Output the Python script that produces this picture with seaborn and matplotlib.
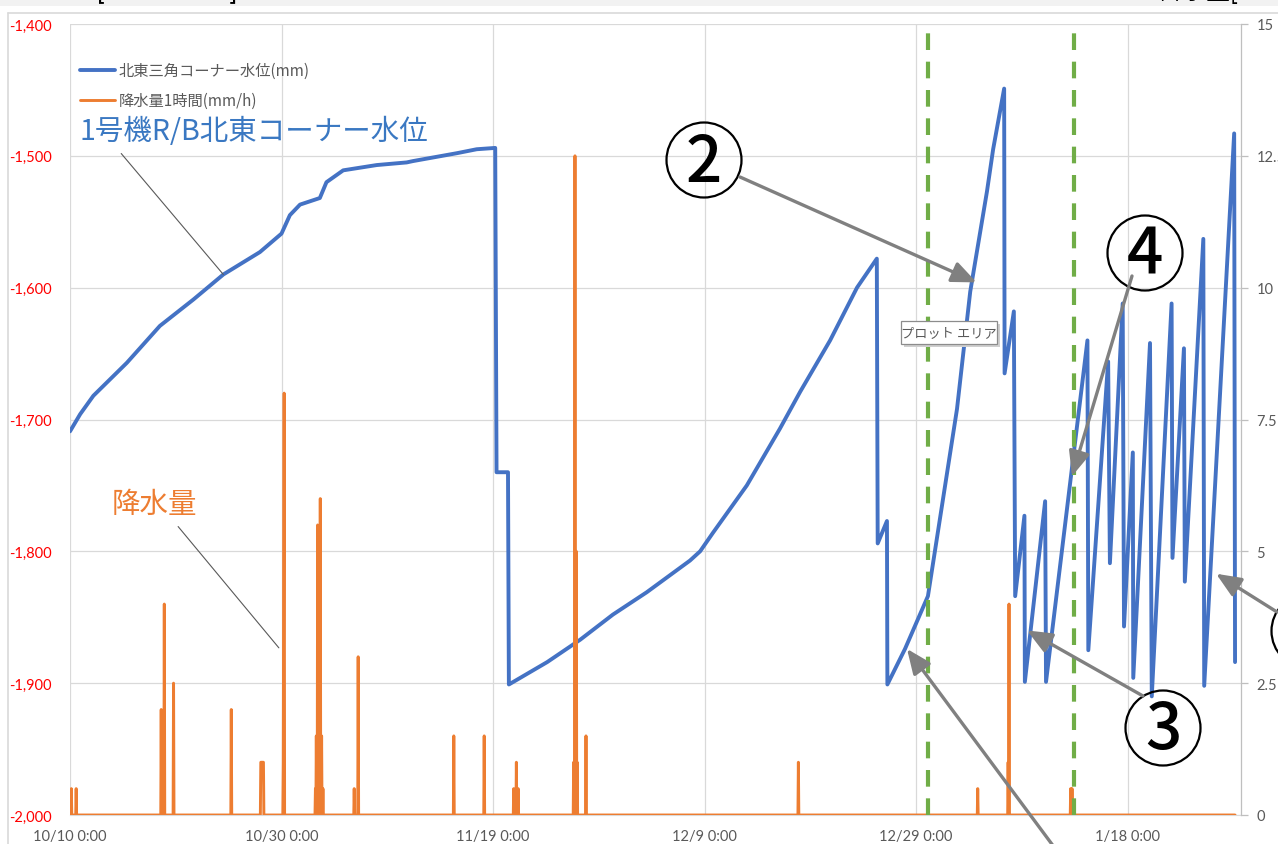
import numpy as np
import pandas as pd
import matplotlib
matplotlib.use("Agg")
import matplotlib.pyplot as plt
import matplotlib.dates as mdates
from matplotlib.patches import Circle, Rectangle
from matplotlib.lines import Line2D
from matplotlib.ticker import FuncFormatter
import seaborn as sns

# ---- water level at the NE corner of the Unit 1 R/B (mm) ----
level_times = [
    "2019-10-10 00:00", "2019-10-10 23:00", "2019-10-12 05:00", "2019-10-15 09:00",
    "2019-10-18 12:00",
    "2019-10-21 16:00", "2019-10-24 12:00", "2019-10-27 23:00", "2019-10-30 00:00",
    "2019-10-30 19:00", "2019-10-31 18:00", "2019-11-02 15:00", "2019-11-03 06:00",
    "2019-11-04 20:00", "2019-11-08 00:00", "2019-11-10 20:00", "2019-11-11 10:00",
    "2019-11-15 14:00", "2019-11-17 11:00", "2019-11-19 05:00", "2019-11-19 08:00",
    "2019-11-20 10:00", "2019-11-20 12:00", "2019-11-24 03:00", "2019-11-27 06:00",
    "2019-11-30 08:00", "2019-12-03 13:00", "2019-12-07 15:00", "2019-12-08 14:00",
    "2019-12-09 19:00", "2019-12-13 00:00", "2019-12-16 03:00", "2019-12-18 01:00",
    "2019-12-20 21:00", "2019-12-23 10:00", "2019-12-25 07:00", "2019-12-25 09:00",
    "2019-12-26 06:00", "2019-12-26 07:00", "2019-12-27 23:00", "2019-12-30 03:00",
    "2020-01-01 21:00", "2020-01-03 03:00", "2020-01-04 17:00", "2020-01-05 07:00",
    "2020-01-06 08:00", "2020-01-06 09:00", "2020-01-07 06:00", "2020-01-07 09:00",
    "2020-01-08 06:00", "2020-01-08 07:00", "2020-01-10 05:00", "2020-01-10 07:00",
    "2020-01-14 05:00", "2020-01-14 07:00", "2020-01-16 04:00", "2020-01-16 08:00",
    "2020-01-17 13:00", "2020-01-17 16:00", "2020-01-18 12:00", "2020-01-18 13:00",
    "2020-01-20 03:00", "2020-01-20 07:00", "2020-01-22 04:00", "2020-01-22 06:00",
    "2020-01-23 08:00", "2020-01-23 10:00", "2020-01-25 04:00", "2020-01-25 06:00",
    "2020-01-28 02:00", "2020-01-28 04:00",
]
level_mm = [
    -1709, -1696, -1682, -1657,
    -1629,
    -1609, -1590, -1573, -1559,
    -1545, -1537, -1532, -1520,
    -1511, -1507, -1505, -1504,
    -1498, -1495, -1494, -1740,
    -1740, -1901, -1884, -1867,
    -1848, -1831, -1807, -1800,
    -1786, -1750, -1707, -1679,
    -1640, -1600, -1578, -1794,
    -1777, -1901, -1874, -1834,
    -1692, -1603, -1527, -1495,
    -1449, -1665, -1618, -1834,
    -1773, -1899, -1762, -1899,
    -1640, -1875, -1656, -1809,
    -1612, -1857, -1725, -1896,
    -1642, -1910, -1612, -1805,
    -1646, -1823, -1563, -1902,
    -1483, -1884,
]

# ---- hourly precipitation (mm/h); hours not listed had no rain ----
rain_times = [
    "2019-10-10 03:00", "2019-10-10 14:00",
    "2019-10-18 15:00", "2019-10-18 22:00", "2019-10-19 19:00",
    "2019-10-25 06:00",
    "2019-10-28 01:00", "2019-10-28 02:00", "2019-10-28 03:00", "2019-10-28 04:00",
    "2019-10-28 05:00", "2019-10-28 06:00", "2019-10-28 07:00",
    "2019-10-30 04:00", "2019-10-30 05:00", "2019-10-30 06:00",
    "2019-11-02 05:00", "2019-11-02 07:00", "2019-11-02 10:00", "2019-11-02 13:00",
    "2019-11-02 16:00", "2019-11-02 19:00", "2019-11-02 22:00",
    "2019-11-05 21:00", "2019-11-06 06:00",
    "2019-11-15 07:00", "2019-11-18 04:00",
    "2019-11-20 23:00", "2019-11-21 05:00", "2019-11-21 09:00",
    "2019-11-26 15:00", "2019-11-26 18:00", "2019-11-26 21:00", "2019-11-26 23:00",
    "2019-11-27 19:00",
    "2019-12-17 21:00",
    "2020-01-03 20:00", "2020-01-06 17:00", "2020-01-06 19:00",
    "2020-01-12 15:00", "2020-01-12 18:00",
]
rain_mm = [
    0.5, 0.5,
    2.0, 4.0, 2.5,
    2.0,
    1.0, 1.0, 1.0, 1.0,
    1.0, 1.0, 1.0,
    1.0, 4.5, 8.0,
    0.5, 1.5, 5.5, 2.0,
    6.0, 1.5, 0.5,
    0.5, 3.0,
    1.5, 1.5,
    0.5, 1.0, 0.5,
    1.0, 12.5, 5.0, 1.0,
    1.5,
    1.0,
    0.5, 1.0, 4.0,
    0.5, 0.5,
]

# dates of the two operation changes (dashed green markers)
event_times = ["2019-12-30 03:00", "2020-01-12 22:00"]

x_start, x_end = "2019-10-10 00:00", "2020-01-28 17:30"
x_tick_times = ["2019-10-10", "2019-10-30", "2019-11-19", "2019-12-09", "2019-12-29", "2020-01-18"]
left_ticks = [-2000, -1900, -1800, -1700, -1600, -1500, -1400]
right_ticks = [0, 2.5, 5, 7.5, 10, 12.5, 15]

BLUE, ORANGE, GREEN = "#4472c4", "#ed7d31", "#70ad47"
GRID, GREY_TXT, ARROW = "#d9d9d9", "#595959", "#808080"

sns.set_style("white")
plt.rcParams["font.family"] = ["Noto Sans CJK JP", "DejaVu Sans"]

level_df = pd.DataFrame({"time": pd.to_datetime(level_times), "level": level_mm})
rain_idx = pd.date_range("2019-10-10 00:00", "2020-01-28 04:00", freq="h")
rain_series = pd.Series(0.0, index=rain_idx)
rain_series.loc[pd.to_datetime(rain_times)] = rain_mm
rain_df = pd.DataFrame({"time": rain_series.index, "rain": rain_series.values})

W, H = 1278, 845
fig = plt.figure(figsize=(W / 100, H / 100), dpi=100)
fig.patch.set_facecolor("white")

# window chrome: top band and chart-area border
fig.patches.append(Rectangle((0, (H - 7) / H), 1, 7 / H, transform=fig.transFigure,
                             facecolor="#f2f2f2", edgecolor="none", zorder=0))
fig.lines.append(Line2D([8 / W, 1], [(H - 14) / H, (H - 14) / H], transform=fig.transFigure,
                        color=GRID, lw=1.2))
fig.lines.append(Line2D([8 / W, 8 / W], [0, (H - 14) / H], transform=fig.transFigure,
                        color=GRID, lw=1.2))
fig.text(97 / W, (H + 1) / H, "[", fontsize=17, color="black", va="baseline", family="DejaVu Sans")
fig.text(228 / W, (H + 1) / H, "]", fontsize=17, color="black", va="baseline", family="DejaVu Sans")
fig.text(1238 / W, (H + 1) / H, "降水量[", fontsize=17, color="black", va="baseline", ha="right")

ax = fig.add_axes([70 / W, (H - 816) / H, (1241 - 70) / W, (816 - 25) / H])
ax2 = ax.twinx()

sns.lineplot(data=level_df, x="time", y="level", ax=ax, color=BLUE, lw=2.8,
             estimator=None, label="北東三角コーナー水位(mm)", legend=False)
sns.lineplot(data=rain_df, x="time", y="rain", ax=ax2, color=ORANGE, lw=2.1,
             estimator=None, label="降水量1時間(mm/h)", legend=False)

for t in event_times:
    ax2.axvline(pd.Timestamp(t), color=GREEN, lw=3.0, ls=(0, (4.0, 2.8)), zorder=6)

ax.set_xlim(pd.Timestamp(x_start), pd.Timestamp(x_end))
ax.set_ylim(-2000, -1400)
ax2.set_ylim(0, 15)
ax.set_xticks(pd.to_datetime(x_tick_times))
ax.xaxis.set_major_formatter(FuncFormatter(
    lambda v, p: (lambda d: f"{d.month}/{d.day} {d.hour}:{d.minute:02d}")(mdates.num2date(v))))
ax.set_yticks(left_ticks)
ax.yaxis.set_major_formatter(FuncFormatter(lambda v, p: f"{int(v):,}"))
ax2.set_yticks(right_ticks)
ax2.yaxis.set_major_formatter(FuncFormatter(lambda v, p: f"{v:g}"))
ax.set_xlabel("")
ax.set_ylabel("")
ax2.set_ylabel("")

ax.grid(True, color=GRID, lw=0.9)
ax.set_axisbelow(True)
ax2.grid(False)
for s in ["top", "left", "right"]:
    ax.spines[s].set_visible(False)
ax.spines["bottom"].set_color(GRID)
for s in ["top", "left", "bottom"]:
    ax2.spines[s].set_visible(False)
ax2.spines["right"].set_color("#bfbfbf")
ax2.spines["right"].set_linewidth(0.9)

ax.tick_params(axis="y", length=0, pad=13, labelsize=10.5, labelcolor="#ff0000")
ax.tick_params(axis="x", length=0, pad=10, labelsize=10.5, labelcolor=GREY_TXT)
ax2.tick_params(axis="y", length=5, width=0.9, color="#bfbfbf", pad=6, labelsize=10.5,
                labelcolor=GREY_TXT)
for lab in ax.get_xticklabels() + ax.get_yticklabels() + ax2.get_yticklabels():
    lab.set_fontfamily("Lato")

# legend
h1, l1 = ax.get_legend_handles_labels()
h2, l2 = ax2.get_legend_handles_labels()
for a in (ax, ax2):
    if a.get_legend() is not None:
        a.get_legend().remove()
ax2.legend(h1 + h2, l1 + l2, loc="upper left", bbox_to_anchor=(80 / W, (H - 63) / H),
           bbox_transform=fig.transFigure, frameon=False, fontsize=11,
           handlelength=2.3, handletextpad=0.25, labelspacing=0.85,
           borderpad=0, borderaxespad=0, labelcolor=GREY_TXT)

# overlay in pixel units for callouts
ov = fig.add_axes([0, 0, 1, 1], zorder=10)
ov.set_xlim(0, W)
ov.set_ylim(H, 0)
ov.axis("off")
ov.patch.set_alpha(0)


def pix(t, v, axis):
    x, y = axis.transData.transform((mdates.date2num(pd.Timestamp(t)), v))
    return ov.transData.inverted().transform((x, y))


# series labels with leader lines
ov.annotate("1号機R/B北東コーナー水位", xy=pix("2019-10-24 12:00", -1590, ax),
            xytext=(80, 132), ha="left", va="center", fontsize=20.5, color="#3a78c2",
            arrowprops=dict(arrowstyle="-", color=GREY_TXT, lw=0.8, relpos=(0.1, 0.0),
                            shrinkA=4, shrinkB=0))
ov.annotate("降水量", xy=pix("2019-10-29 18:00", 3.17, ax2),
            xytext=(112, 505), ha="left", va="center", fontsize=20.5, color=ORANGE,
            arrowprops=dict(arrowstyle="-", color=GREY_TXT, lw=0.8, relpos=(0.7, 0.0),
                            shrinkA=4, shrinkB=0))

# numbered callouts
circles = [(704, 161, "2"), (1163, 729, "3"), (1145, 254, "4"), (1309, 632, "")]
for cx, cy, num in circles:
    ov.add_patch(Circle((cx, cy), 37.5, facecolor="none", edgecolor="black", lw=1.6))
    if num:
        ov.text(cx, cy + 2, num, ha="center", va="center", fontsize=46, color="black",
                fontweight="medium")

arrow_kw = dict(arrowstyle="-|>,head_length=0.75,head_width=0.32", color=ARROW, lw=2.4,
                shrinkA=0, shrinkB=0, mutation_scale=20)
callouts = [
    ((740, 178), ("2020-01-03 17:30", -1596)),
    ((1132, 277), ("2020-01-12 18:00", -1743)),
    ((1143, 697), ("2020-01-08 12:00", -1860)),
    ((1054, 848), ("2019-12-28 03:30", -1874)),
    ((1277, 613), ("2020-01-26 09:00", -1817)),
]
for start, (t, v) in callouts:
    ov.annotate("", xy=pix(t, v, ax), xytext=start, arrowprops=arrow_kw)

# hover tooltip box
ov.add_patch(Rectangle((904, 325), 96, 23, facecolor="#cfcfcf", edgecolor="none"))
ov.add_patch(Rectangle((901, 322), 96, 23, facecolor="white", edgecolor="#8c8c8c", lw=0.9))
ov.text(949, 334, "プロット エリア", ha="center", va="center", fontsize=9.5, color=GREY_TXT)

fig.savefig("out.png", dpi=100)
